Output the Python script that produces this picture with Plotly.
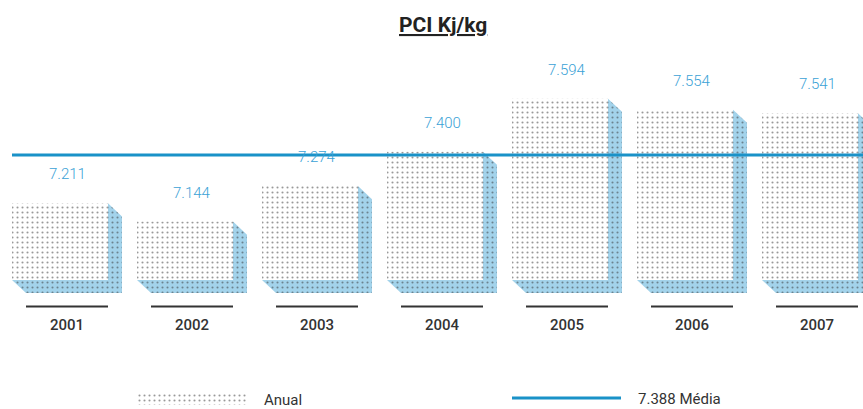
import plotly.graph_objects as go

# PCI per year (Kj/kg) and the mean
years = ['2001', '2002', '2003', '2004', '2005', '2006', '2007']
pci = [7211, 7144, 7274, 7400, 7594, 7554, 7541]
media = 7388

BASE = 6930      # bottom of the front faces
W = 0.384        # half width of a bar (x units)
DX = 0.112       # depth offset, x units
DY = 48          # depth offset, y units
X_MAX = 6.424

DOT = '#333333'
SHADOW = '#a3d3eb'
BLUE = '#1a92c8'
LABEL_BLUE = '#3ba2d6'
FONT = 'Roboto'


def fmt(v):
    return f"{v:,}".replace(',', '.')


pos = list(range(len(years)))

# visible part of the extruded side (L shape) for each bar
sx, sy = [], []
for p, v in zip(pos, pci):
    sx += [p + W, p + W + DX, p + W + DX, p - W + DX, p - W, p + W, p + W, None]
    sy += [v, v - DY, BASE - DY, BASE - DY, BASE, BASE, v, None]

dots = dict(shape='.', fgcolor=DOT, bgcolor='white', size=5, solidity=0.14)

fig = go.Figure()

fig.add_trace(go.Bar(
    x=pos,
    y=[v - BASE for v in pci],
    base=BASE,
    width=2 * W,
    marker=dict(color='white', line_width=0, pattern=dots),
    hoverinfo='skip'
))

fig.add_trace(go.Scatter(
    x=sx, y=sy,
    mode='lines',
    fill='toself',
    fillcolor=SHADOW,
    fillpattern=dict(dots, bgcolor=SHADOW),
    line=dict(width=0, color=SHADOW),
    hoverinfo='skip'
))

# legend swatch for "Anual"
fig.add_trace(go.Bar(
    x=[0], y=[1], width=1,
    xaxis='x2', yaxis='y2',
    marker=dict(color='white', line_width=0, pattern=dots),
    hoverinfo='skip'
))

annotations = [dict(
    text='<b>PCI Kj/kg</b>',
    x=443 / 863, y=1 - 25 / 409, xref='paper', yref='paper',
    xanchor='center', yanchor='middle', showarrow=False,
    font=dict(family=FONT, size=21, color='#222222', lineposition='under')
)]

for p, v, yr in zip(pos, pci, years):
    annotations.append(dict(
        text=fmt(v), x=p + DX / 2, y=v, xref='x', yref='y',
        yshift=29, yanchor='middle', showarrow=False,
        font=dict(family=FONT, size=15, color=LABEL_BLUE, weight=300)
    ))
    annotations.append(dict(
        text=yr, x=p + DX / 2, y=1 - 325 / 409, xref='x', yref='paper',
        yanchor='middle', showarrow=False,
        font=dict(family=FONT, size=15, color='#333333', weight=500)
    ))

annotations.append(dict(
    text='Anual', x=262 / 863, y=1 - 400 / 409, xref='paper', yref='paper',
    xanchor='left', yanchor='middle', showarrow=False,
    font=dict(family=FONT, size=15, color='#333333')
))
annotations.append(dict(
    text=f"{fmt(media)} Média", x=636 / 863, y=1 - 399 / 409, xref='paper', yref='paper',
    xanchor='left', yanchor='middle', showarrow=False,
    font=dict(family=FONT, size=15, color='#333333')
))

shapes = [dict(
    type='line', xref='x', yref='y',
    x0=-W, x1=X_MAX, y0=media, y1=media,
    line=dict(color=BLUE, width=3), layer='above'
)]
for p in pos:
    shapes.append(dict(
        type='line', xref='x', yref='paper',
        x0=p - W + DX, x1=p + W, y0=1 - 306.5 / 409, y1=1 - 306.5 / 409,
        line=dict(color='#333333', width=2)
    ))
shapes.append(dict(
    type='line', xref='paper', yref='paper',
    x0=512 / 863, x1=621 / 863, y0=1 - 398 / 409, y1=1 - 398 / 409,
    line=dict(color=BLUE, width=3)
))

fig.update_layout(
    width=863,
    height=409,
    margin=dict(l=0, r=0, t=0, b=0),
    paper_bgcolor='white',
    plot_bgcolor='white',
    showlegend=False,
    barmode='overlay',
    xaxis=dict(range=[-0.48, X_MAX], visible=False, fixedrange=True),
    yaxis=dict(range=[6457.5, 7955.7], visible=False, fixedrange=True),
    xaxis2=dict(domain=[137 / 863, 248 / 863], anchor='y2', range=[-0.5, 0.5],
                visible=False, fixedrange=True),
    yaxis2=dict(domain=[4 / 409, 16 / 409], anchor='x2', range=[0, 1],
                visible=False, fixedrange=True),
    annotations=annotations,
    shapes=shapes
)

# drop the default page margin so the figure sits at the window origin
fig.write_html("out.html", config={'displayModeBar': False},
               post_script="document.body.style.margin='0px';")
